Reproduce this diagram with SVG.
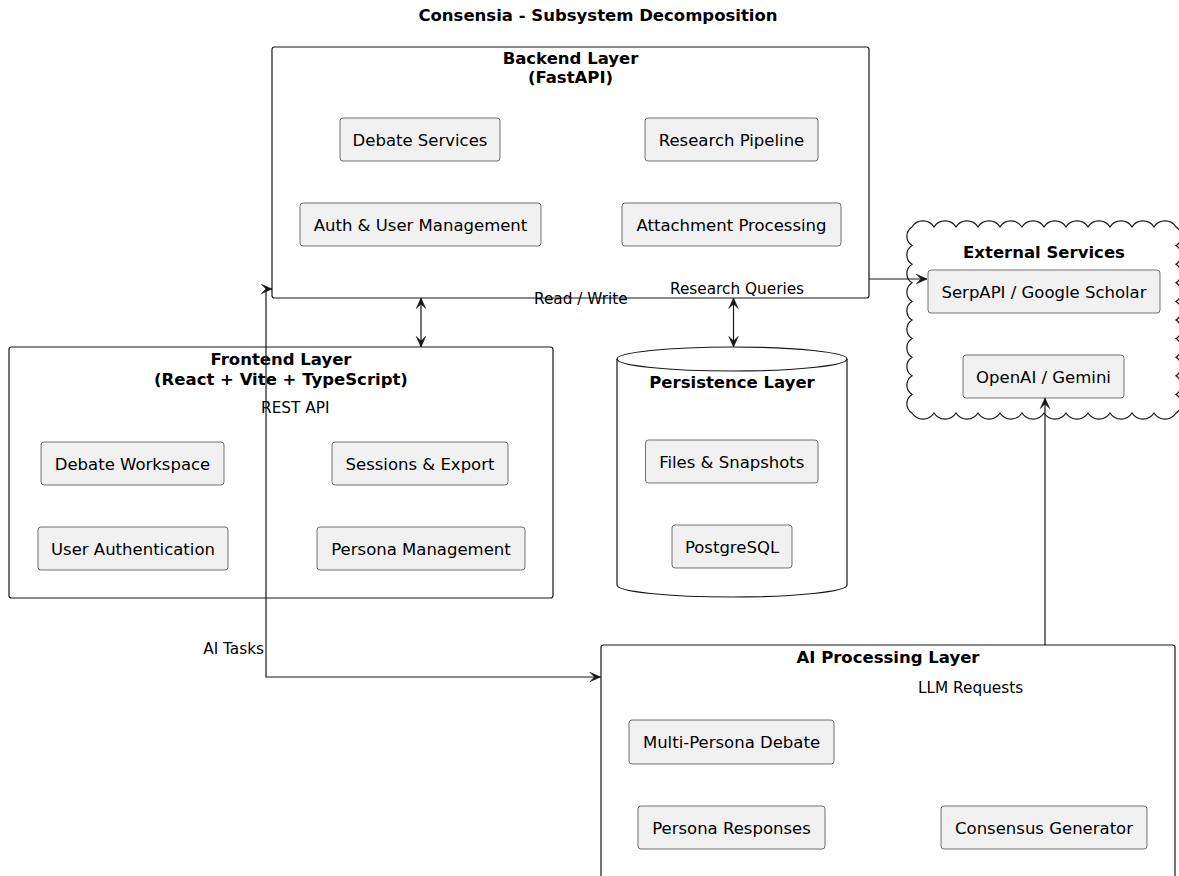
<svg xmlns="http://www.w3.org/2000/svg" width="1179" height="876" viewBox="0 0 1179 876">
<style>
  text { font-family: "DejaVu Sans", "Liberation Sans", sans-serif; fill: #000; }
  .title { font-size: 16.5px; font-weight: bold; text-anchor: middle; }
  .item { font-size: 16.5px; text-anchor: middle; }
  .lbl { font-size: 15.3px; }
  .pkg { fill: #FFFFFF; stroke: #181818; stroke-width: 1.2; }
  .box { fill: #F1F1F1; stroke: #181818; stroke-width: 0.6; }
  .edge { fill: none; stroke: #181818; stroke-width: 1.2; }
</style>
<defs>
  <marker id="arr" viewBox="-12 -6 13 12" refX="0" refY="0" markerWidth="13" markerHeight="12" markerUnits="userSpaceOnUse" orient="auto-start-reverse">
    <path d="M0,0 L-10.6,-4.7 L-5.9,0 L-10.6,4.7 Z" fill="#181818" stroke="#181818" stroke-width="0.6"/>
  </marker>
</defs>
<rect width="1179" height="876" fill="#FFFFFF"/>
<text class="title" x="598" y="21">Consensia - Subsystem Decomposition</text>

<g id="backend">
  <rect class="pkg" x="272" y="47" width="597" height="251" rx="2.5"/>
  <text class="title" x="570.5" y="64">Backend Layer</text>
  <text class="title" x="570.5" y="83">(FastAPI)</text>
  <g id="debate-services"><rect class="box" x="340" y="118" width="160" height="43" rx="3"/><text class="item" x="420" y="145.5">Debate Services</text></g>
  <g id="research-pipeline"><rect class="box" x="645" y="118" width="173" height="43" rx="3"/><text class="item" x="731.5" y="145.5">Research Pipeline</text></g>
  <g id="auth-user-mgmt"><rect class="box" x="300" y="203" width="241" height="43" rx="3"/><text class="item" x="420.5" y="230.5">Auth &amp; User Management</text></g>
  <g id="attachment-processing"><rect class="box" x="622" y="203" width="219" height="43" rx="3"/><text class="item" x="731.5" y="230.5">Attachment Processing</text></g>
</g>

<g id="frontend">
  <rect class="pkg" x="9" y="347" width="544" height="251" rx="2.5"/>
  <text class="title" x="281" y="365">Frontend Layer</text>
  <text class="title" x="281" y="385">(React + Vite + TypeScript)</text>
  <g id="debate-workspace"><rect class="box" x="41" y="442" width="183" height="43" rx="3"/><text class="item" x="132.5" y="469.5">Debate Workspace</text></g>
  <g id="sessions-export"><rect class="box" x="332" y="442" width="176" height="43" rx="3"/><text class="item" x="420" y="469.5">Sessions &amp; Export</text></g>
  <g id="user-authentication"><rect class="box" x="38" y="527" width="190" height="43" rx="3"/><text class="item" x="133" y="554.5">User Authentication</text></g>
  <g id="persona-management"><rect class="box" x="317" y="527" width="208" height="43" rx="3"/><text class="item" x="421" y="554.5">Persona Management</text></g>
</g>

<g id="persistence">
  <path class="pkg" d="M617,359 A115,12 0 0 1 847,359 L847,585 A115,12 0 0 1 617,585 Z"/>
  <path class="edge" d="M617,359 A115,12 0 0 0 847,359"/>
  <text class="title" x="732" y="388">Persistence Layer</text>
  <g id="files-snapshots"><rect class="box" x="645.5" y="440" width="172.5" height="43" rx="3"/><text class="item" x="731.8" y="467.5">Files &amp; Snapshots</text></g>
  <g id="postgresql"><rect class="box" x="672" y="525" width="120" height="43" rx="3"/><text class="item" x="732" y="552.5">PostgreSQL</text></g>
</g>

<g id="external">
  <path class="pkg" d="M912,227
    a13 13 0 0 1 22 0 a13 13 0 0 1 22 0 a13 13 0 0 1 22 0 a13 13 0 0 1 22 0 a13 13 0 0 1 22 0 a13 13 0 0 1 22 0
    a13 13 0 0 1 22 0 a13 13 0 0 1 22 0 a13 13 0 0 1 22 0 a13 13 0 0 1 22 0 a13 13 0 0 1 22 0 a13 13 0 0 1 22 0
    a11 11 0 0 1 0 18.6 a11 11 0 0 1 0 18.6 a11 11 0 0 1 0 18.6 a11 11 0 0 1 0 18.6 a11 11 0 0 1 0 18.6
    a11 11 0 0 1 0 18.6 a11 11 0 0 1 0 18.6 a11 11 0 0 1 0 18.6 a11 11 0 0 1 0 18.6 a11 11 0 0 1 0 18.6
    a13 13 0 0 1 -22 0 a13 13 0 0 1 -22 0 a13 13 0 0 1 -22 0 a13 13 0 0 1 -22 0 a13 13 0 0 1 -22 0 a13 13 0 0 1 -22 0
    a13 13 0 0 1 -22 0 a13 13 0 0 1 -22 0 a13 13 0 0 1 -22 0 a13 13 0 0 1 -22 0 a13 13 0 0 1 -22 0 a13 13 0 0 1 -22 0
    a11 11 0 0 1 0 -18.6 a11 11 0 0 1 0 -18.6 a11 11 0 0 1 0 -18.6 a11 11 0 0 1 0 -18.6 a11 11 0 0 1 0 -18.6
    a11 11 0 0 1 0 -18.6 a11 11 0 0 1 0 -18.6 a11 11 0 0 1 0 -18.6 a11 11 0 0 1 0 -18.6 a11 11 0 0 1 0 -18.6 Z"/>
  <text class="title" x="1044" y="258">External Services</text>
  <g id="serpapi"><rect class="box" x="928" y="270" width="232" height="43" rx="3"/><text class="item" x="1044" y="297.5">SerpAPI / Google Scholar</text></g>
  <g id="openai-gemini"><rect class="box" x="963" y="355" width="161" height="43" rx="3"/><text class="item" x="1043.5" y="382.5">OpenAI / Gemini</text></g>
</g>

<g id="ai-processing">
  <rect class="pkg" x="601" y="645" width="574" height="250" rx="2.5"/>
  <text class="title" x="888" y="663">AI Processing Layer</text>
  <g id="multi-persona-debate"><rect class="box" x="629" y="720" width="205" height="44" rx="3"/><text class="item" x="731.5" y="748">Multi-Persona Debate</text></g>
  <g id="persona-responses"><rect class="box" x="638" y="806" width="187" height="43" rx="3"/><text class="item" x="731.5" y="833.5">Persona Responses</text></g>
  <g id="consensus-generator"><rect class="box" x="941" y="806" width="206" height="43" rx="3"/><text class="item" x="1044" y="833.5">Consensus Generator</text></g>
</g>

<g id="connectors">
  <path class="edge" d="M421,298 L421,347" marker-start="url(#arr)" marker-end="url(#arr)"/>
  <path class="edge" d="M733.5,298 L733.5,347" marker-start="url(#arr)" marker-end="url(#arr)"/>
  <path class="edge" d="M869,279 L927,279" marker-end="url(#arr)"/>
  <path class="edge" d="M1045,645 L1045,398" marker-end="url(#arr)"/>
  <path class="edge" d="M272,289 L266,289 L266,677 L600.5,677" marker-start="url(#arr)" marker-end="url(#arr)"/>
  <text class="lbl" x="534" y="303.5">Read / Write</text>
  <text class="lbl" x="670" y="294">Research Queries</text>
  <text class="lbl" x="261" y="413">REST API</text>
  <text class="lbl" x="264" y="654" text-anchor="end">AI Tasks</text>
  <text class="lbl" x="918" y="693">LLM Requests</text>
</g>
</svg>
